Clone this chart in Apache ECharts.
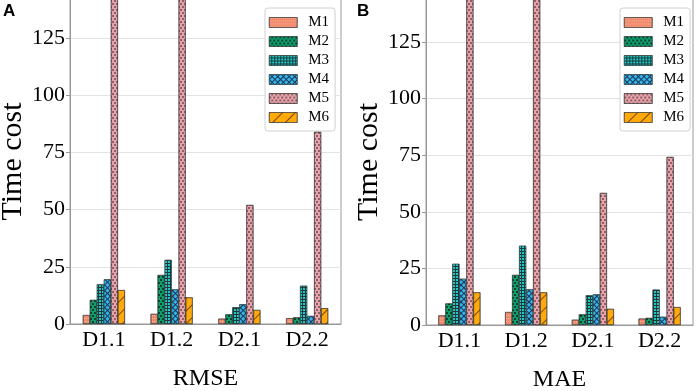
<!DOCTYPE html>
<html>
<head>
<meta charset="utf-8">
<script src="https://cdn.jsdelivr.net/npm/echarts@6/dist/echarts.min.js"></script>
<style>
  html, body { margin: 0; padding: 0; background: #fff; }
  #main { width: 699px; height: 391px; }
</style>
</head>
<body>
<div id="main"></div>
<script>
// categories of both panels
const categories = ['D1.1', 'D1.2', 'D2.1', 'D2.2'];
const methods = ['M1', 'M2', 'M3', 'M4', 'M5', 'M6'];
const yTicks = [0, 25, 50, 75, 100, 125];

// panel A, RMSE (M5 for D1.x goes off the top, value is a guess)
const rmseM1 = [3.9, 4.4, 2.3, 2.5];
const rmseM2 = [10.5, 21.4, 4.2, 2.9];
const rmseM3 = [17.3, 28.0, 7.3, 16.7];
const rmseM4 = [19.5, 15.1, 8.6, 3.5];
const rmseM5 = [400, 400, 52, 84];
const rmseM6 = [14.8, 11.6, 6.1, 6.9];

// panel B, MAE
const maeM1 = [4.2, 5.7, 2.3, 2.8];
const maeM2 = [9.5, 22.1, 4.7, 3.1];
const maeM3 = [27.0, 35.0, 13.1, 15.6];
const maeM4 = [20.4, 15.7, 13.5, 3.6];
const maeM5 = [400, 400, 58.3, 74.2];
const maeM6 = [14.4, 14.4, 7.1, 7.9];

const rmse = [rmseM1, rmseM2, rmseM3, rmseM4, rmseM5, rmseM6];
const mae = [maeM1, maeM2, maeM3, maeM4, maeM5, maeM6];

// fill colour + hatch for each method
const styles = [
  { color: '#f28a6c', decal: { symbol: 'rect', symbolSize: 1, dashArrayX: [1, 1], dashArrayY: [1, 2], color: 'rgba(255,255,255,0.35)' } },
  { color: '#0f9e6c', decal: { symbol: 'circle', symbolSize: 0.9, dashArrayX: [[2, 2], [0, 2, 2, 0]], dashArrayY: [2, 1], color: 'rgba(0,0,0,0.85)' } },
  { color: '#1a3a3a', decal: { symbol: 'rect', symbolSize: 1, dashArrayX: [2, 1], dashArrayY: [2, 1], color: '#1ec8c8' } },
  { color: '#1a3550', decal: { symbol: 'rect', symbolSize: 1, dashArrayX: [3, 1], dashArrayY: [3, 1], rotation: Math.PI / 4, color: '#35b6ee' } },
  { color: '#e9a2aa', decal: { symbol: 'circle', symbolSize: 0.8, dashArrayX: [[2, 2], [0, 2, 2, 0]], dashArrayY: [2, 1], color: 'rgba(0,0,0,0.9)' } },
  { color: '#ffa90a', decal: { symbol: 'rect', symbolSize: 1, dashArrayX: [1, 0], dashArrayY: [1, 8], rotation: -Math.PI / 4, color: 'rgba(90,50,0,0.8)' } }
];

const serif = 'Liberation Serif';

function yAxis(idx, max) {
  return {
    type: 'value', gridIndex: idx, min: 0, max: max, interval: 25,
    name: 'Time cost', nameLocation: 'middle', nameGap: 40,
    nameTextStyle: { fontFamily: serif, fontSize: 30, color: '#000' },
    axisLine: { show: true, lineStyle: { color: '#999' } },
    axisTick: { show: true, length: 4, lineStyle: { color: '#999' } },
    axisLabel: { fontFamily: serif, fontSize: 22, color: '#000', margin: 5, showMaxLabel: false },
    splitLine: { lineStyle: { color: '#e3e3e3' } }
  };
}

function xAxis(idx, title) {
  return {
    type: 'category', gridIndex: idx, data: categories,
    name: title, nameLocation: 'middle', nameGap: 43,
    nameTextStyle: { fontFamily: serif, fontSize: 24, color: '#000' },
    axisLine: { lineStyle: { color: '#999' } },
    axisTick: { show: false },
    axisLabel: { fontFamily: serif, fontSize: 22, color: '#000', margin: 5 }
  };
}

function legend(left) {
  return {
    orient: 'vertical', left: left, top: 8,
    padding: [7, 6, 6, 4],
    icon: 'rect',
    itemWidth: 28, itemHeight: 10, itemGap: 4,
    backgroundColor: 'rgba(255,255,255,0.9)',
    borderColor: '#d0d0d0', borderWidth: 1, borderRadius: 3,
    itemStyle: { borderWidth: 0.5, borderColor: '#333' },
    textStyle: { fontFamily: serif, fontSize: 15, color: '#000', padding: [0, 0, 0, 6] },
    data: methods
  };
}

const series = [];
[rmse, mae].forEach(function (panel, p) {
  panel.forEach(function (vals, i) {
    series.push({
      name: methods[i], type: 'bar',
      xAxisIndex: p, yAxisIndex: p,
      data: vals,
      barWidth: 7, barGap: '0%',
      itemStyle: {
        color: styles[i].color,
        decal: styles[i].decal,
        borderColor: '#333', borderWidth: 0.5
      }
    });
  });
});

const chart = echarts.init(document.getElementById('main'));
chart.setOption({
  animation: false,
  grid: [
    { left: 70, right: 358, top: -1, bottom: 67, show: true, borderColor: '#999', borderWidth: 1, outerBoundsMode: 'none' },
    { left: 426, right: 6, top: -1, bottom: 66, show: true, borderColor: '#999', borderWidth: 1, outerBoundsMode: 'none' }
  ],
  xAxis: [xAxis(0, 'RMSE'), xAxis(1, 'MAE')],
  yAxis: [yAxis(0, 142), yAxis(1, 144)],
  legend: [legend(265), legend(620)],
  graphic: [
    { type: 'text', left: 3, top: 3, style: { text: 'A', fontFamily: 'Liberation Sans', fontWeight: 'bold', fontSize: 17, fill: '#000' } },
    { type: 'text', left: 357, top: 3, style: { text: 'B', fontFamily: 'Liberation Sans', fontWeight: 'bold', fontSize: 17, fill: '#000' } }
  ],
  series: series
});
</script>
</body>
</html>
